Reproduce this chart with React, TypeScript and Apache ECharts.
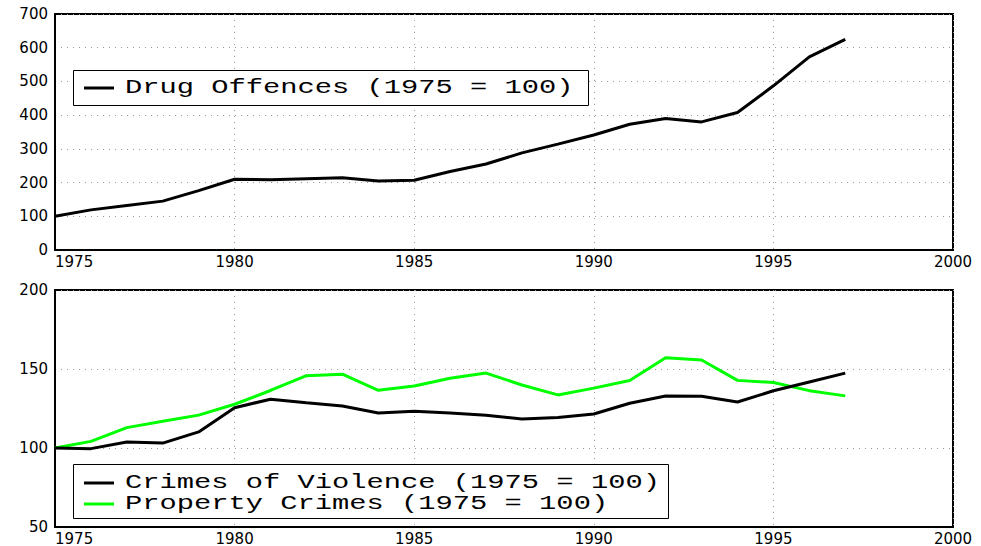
import React, { useEffect, useRef } from "react";
import * as echarts from "echarts";

const years = [1975, 1976, 1977, 1978, 1979, 1980, 1981, 1982, 1983, 1984, 1985, 1986, 1987, 1988, 1989, 1990, 1991, 1992, 1993, 1994, 1995, 1996, 1997];
const drugOffences = [100, 119, 132, 145, 176, 210, 208, 211, 214, 205, 207, 233, 255, 288, 314, 341, 373, 390, 380, 408, 487, 573, 625];
const crimesOfViolence = [100, 99.6, 103.8, 103.1, 110.2, 125.5, 130.9, 128.6, 126.6, 122.1, 123.2, 122.2, 120.7, 118.3, 119.3, 121.5, 128.3, 132.9, 132.8, 129.1, 136.2, 141.8, 147.4];
const propertyCrimes = [100, 104.2, 112.9, 116.9, 120.8, 127.7, 136.4, 145.8, 146.7, 136.5, 139.2, 144.2, 147.4, 139.9, 133.6, 137.9, 142.7, 157.1, 155.7, 142.8, 141.5, 136.3, 133.0];

const drugName = "Drug Offences (1975 = 100)";
const violenceName = "Crimes of Violence (1975 = 100)";
const propertyName = "Property Crimes (1975 = 100)";

const xTicks = { min: 1975, max: 2000, interval: 5 };
const yTopTicks = { min: 0, max: 700, interval: 100 };
const yBottomTicks = { min: 50, max: 200, interval: 50 };

const pairs = (vals: number[]) => years.map((y, i) => [y, vals[i]]);

const BLACK = "#000";
const GREEN = "#00ff00";

function legendEntry(name: string, color: string, y: number) {
  return [
    { type: "line", z: 101, shape: { x1: 84, y1: y, x2: 114, y2: y }, style: { stroke: color, lineWidth: 3 } },
    {
      type: "text", z: 101, x: 125, y, scaleX: 1.37,
      style: { text: name, fill: BLACK, font: "21px 'Liberation Mono'", verticalAlign: "middle", align: "left" },
    },
  ];
}

export default function App() {
  const ref = useRef<HTMLDivElement>(null);
  useEffect(() => {
    if (!ref.current) return;
    const chart = echarts.init(ref.current, null, { renderer: "svg" });
    const tickFont = { fontFamily: "DejaVu Sans", fontSize: 15, color: "#000" };
    const split = { show: true, lineStyle: { color: "#999", width: 1, type: [1, 5] as any } };
    const xAxisBase = (gi: number) => ({
      type: "value" as const,
      gridIndex: gi,
      ...xTicks,
      axisLine: { show: true, onZero: false, lineStyle: { color: "#000", width: 2 } },
      axisTick: { show: false },
      axisLabel: { ...tickFont, margin: 4, alignMinLabel: "left", formatter: (v: number) => String(v) },
      splitLine: split,
    });
    const yAxisBase = (gi: number, t: any) => ({
      type: "value" as const,
      gridIndex: gi,
      ...t,
      axisLine: { show: true, lineStyle: { color: "#000", width: 2 } },
      axisTick: { show: false },
      axisLabel: { ...tickFont, margin: 7 },
      splitLine: split,
    });
    chart.setOption({
      animation: false,
      backgroundColor: "#fff",
      grid: [
        { left: 55, top: 14, width: 898, height: 236, show: true, borderColor: "#000", borderWidth: 2, backgroundColor: "transparent" },
        { left: 55, top: 290, width: 898, height: 237, show: true, borderColor: "#000", borderWidth: 2, backgroundColor: "transparent" },
      ],
      xAxis: [xAxisBase(0), xAxisBase(1)],
      yAxis: [yAxisBase(0, yTopTicks), yAxisBase(1, yBottomTicks)],
      graphic: [
        { type: "rect", z: 100, shape: { x: 73.5, y: 70.5, width: 515, height: 35 }, style: { fill: "#fff", stroke: "#000", lineWidth: 1 } },
        ...legendEntry(drugName, BLACK, 88),
        { type: "rect", z: 100, shape: { x: 73.5, y: 464.5, width: 595, height: 54 }, style: { fill: "#fff", stroke: "#000", lineWidth: 1 } },
        ...legendEntry(violenceName, BLACK, 483),
        ...legendEntry(propertyName, GREEN, 504),
      ],
      series: [
        {
          name: drugName, type: "line", xAxisIndex: 0, yAxisIndex: 0, data: pairs(drugOffences),
          symbol: "none", lineStyle: { color: BLACK, width: 3 }, itemStyle: { color: BLACK },
        },
        {
          name: violenceName, type: "line", xAxisIndex: 1, yAxisIndex: 1, data: pairs(crimesOfViolence),
          symbol: "none", lineStyle: { color: BLACK, width: 3 }, itemStyle: { color: BLACK }, z: 3,
        },
        {
          name: propertyName, type: "line", xAxisIndex: 1, yAxisIndex: 1, data: pairs(propertyCrimes),
          symbol: "none", lineStyle: { color: GREEN, width: 3 }, itemStyle: { color: GREEN }, z: 2,
        },
      ],
    });
    return () => chart.dispose();
  }, []);
  return <div ref={ref} style={{ position: "fixed", left: 0, top: 0, width: 981, height: 546 }} />;
}
